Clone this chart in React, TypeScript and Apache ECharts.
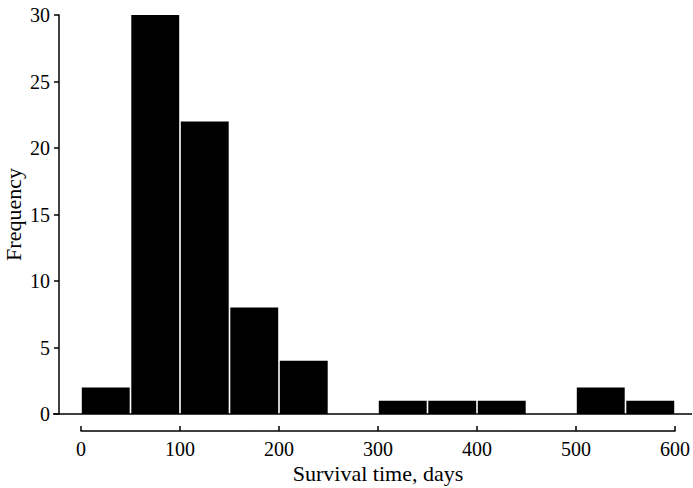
import React, { useEffect, useRef } from "react";
import * as echarts from "echarts";

const binStarts = [0, 50, 100, 150, 200, 250, 300, 350, 400, 450, 500, 550];
const binWidth = 50;
const frequencies = [2, 30, 22, 8, 4, 0, 1, 1, 1, 0, 2, 1];
const xTicks = [0, 100, 200, 300, 400, 500, 600];
const yTicks = [0, 5, 10, 15, 20, 25, 30];

const FONT = '"Liberation Serif", "DejaVu Serif", "Times New Roman", serif';

export default function App() {
  const ref = useRef<HTMLDivElement>(null);
  useEffect(() => {
    if (!ref.current) return;
    const chart = echarts.init(ref.current, undefined, { renderer: "svg" });
    const barData = binStarts.map((s, i) => [s, s + binWidth, frequencies[i]]);
    chart.setOption({
      animation: false,
      backgroundColor: "#fff",
      grid: { left: 81, right: 18, top: 15, bottom: 74, containLabel: false, outerBoundsMode: "none" },
      xAxis: {
        type: "value",
        min: xTicks[0],
        max: xTicks[xTicks.length - 1],
        interval: 100,
        offset: 17,
        name: "Survival time, days",
        nameLocation: "middle",
        nameGap: 31,
        nameMoveOverlap: false,
        nameTextStyle: { fontFamily: FONT, fontSize: 22, color: "#000", lineHeight: 22 },
        axisLine: { show: true, onZero: false, lineStyle: { color: "#000", width: 1.5 } },
        axisTick: { show: true, inside: true, length: 5, lineStyle: { color: "#000", width: 1.5 } },
        axisLabel: { fontFamily: FONT, fontSize: 20, color: "#000", margin: 8, lineHeight: 20 },
        splitLine: { show: false },
      },
      yAxis: {
        type: "value",
        min: yTicks[0],
        max: yTicks[yTicks.length - 1],
        interval: 5,
        offset: 22,
        name: "Frequency",
        nameLocation: "middle",
        nameGap: 35,
        nameMoveOverlap: false,
        nameTextStyle: { fontFamily: FONT, fontSize: 22, color: "#000" },
        axisLine: { show: true, onZero: false, lineStyle: { color: "#000", width: 1.5 } },
        axisTick: { show: true, inside: false, length: 5, lineStyle: { color: "#000", width: 1.5 } },
        axisLabel: { fontFamily: FONT, fontSize: 20, color: "#000", margin: 9 },
        splitLine: { show: false },
      },
      series: [
        {
          type: "custom",
          encode: { x: [0, 1], y: 2 },
          data: barData,
          renderItem: (params: any, api: any) => {
            const p0 = api.coord([api.value(0), api.value(2)]);
            const p1 = api.coord([api.value(1), 0]);
            if (api.value(2) <= 0) return null;
            return {
              type: "rect",
              shape: { x: p0[0] + 0.8, y: p0[1], width: p1[0] - p0[0] - 1.6, height: p1[1] - p0[1] },
              style: { fill: "#000" },
            };
          },
        },
        {
          type: "custom",
          data: [[0, 0]],
          z: 3,
          renderItem: (params: any, api: any) => {
            const p = api.coord([api.value(0), api.value(1)]);
            return {
              type: "line",
              shape: { x1: p[0] - 28, y1: p[1], x2: api.getWidth() - 1, y2: p[1] },
              style: { stroke: "#000", lineWidth: 1.5 },
            };
          },
        },
      ],
    });
    return () => chart.dispose();
  }, []);
  return <div ref={ref} style={{ width: 693, height: 488, position: "absolute", left: 0, top: 0 }} />;
}
